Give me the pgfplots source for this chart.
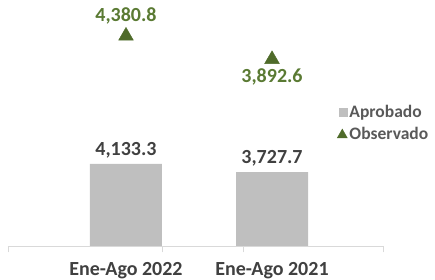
\documentclass[border=0pt]{standalone}
\usepackage{pgfplots}
\pgfplotsset{compat=1.18}
\usepackage{fontspec}
\setmainfont{Carlito}
\definecolor{barGray}{HTML}{BFBFBF}
\definecolor{obsGreen}{HTML}{4F6B2A}
\definecolor{lblGreen}{HTML}{5A7A33}
\definecolor{txtGray}{HTML}{404040}
\definecolor{legGray}{HTML}{595959}
\definecolor{axGray}{HTML}{D9D9D9}
\pgfplotsset{numfmt/.style={/pgf/number format/.cd, fixed, fixed zerofill, precision=1, 1000 sep={,}, assume math mode=true}}
\begin{document}
\begin{tikzpicture}
\path[use as bounding box] (0,0) rectangle (435pt,280pt);
% Bars (Aprobado)
\begin{axis}[
  at={(8pt,34pt)}, anchor=south west,
  scale only axis, width=375pt, height=236pt,
  xmin=-0.808, xmax=1.760, ymin=0, ymax=11894,
  hide axis, clip=false,
  ybar, bar width=72pt, bar shift=0pt,
  numfmt,
  nodes near coords,
  nodes near coords style={font=\fontsize{20}{24}\selectfont\bfseries, text=txtGray, anchor=base, inner sep=0pt, yshift=8.5pt},
]
\addplot[fill=barGray, draw=none] coordinates {(0,4133.3) (1,3727.7)};
\end{axis}
% Observado + axis
\begin{axis}[
  at={(8pt,34pt)}, anchor=south west,
  scale only axis, width=375pt, height=236pt,
  xmin=-0.808, xmax=1.760, ymin=0, ymax=4921,
  axis x line*=bottom, hide y axis, clip=false,
  axis line style={axGray, line width=0.8pt},
  xtick={0,1}, xticklabels={Ene-Ago 2022, Ene-Ago 2021},
  major tick length=0pt,
  xticklabel style={font=\fontsize{20}{24}\selectfont\bfseries, text=txtGray, anchor=base, inner sep=0pt, yshift=-30pt},
  extra x ticks={-0.808,0.249,0.803,1.760}, extra x tick labels={},
  extra x tick style={major tick length=6.5pt, tick align=outside, tick style={axGray, line width=0.8pt}},
  numfmt,
  legend style={draw=none, fill=none, inner sep=0pt, at={(0.877,0.605)}, anchor=north west,
    font=\fontsize{17.5}{20}\selectfont\bfseries, text=legGray, row sep=4pt,
    /tikz/every even column/.append style={column sep=1.5pt}},
  legend cell align=left,
]
\addlegendimage{legend image code/.code={\fill[barGray] (1pt,-4pt) rectangle (9pt,4pt);}}
\addlegendentry{Aprobado}
\addlegendimage{legend image code/.code={\fill[obsGreen] (-0.5pt,-3.8pt) -- (9.5pt,-3.8pt) -- (4.5pt,5pt) -- cycle;}}
\addlegendentry{Observado}
\addplot[only marks, mark=triangle*, mark size=8.5pt, color=obsGreen, forget plot,
  nodes near coords,
  nodes near coords style={font=\fontsize{20}{24}\selectfont\bfseries, text=lblGreen, anchor=base, inner sep=0pt, yshift=14pt}]
  coordinates {(0,4380.8)};
\addplot[only marks, mark=triangle*, mark size=8.5pt, color=obsGreen, forget plot,
  nodes near coords,
  nodes near coords style={font=\fontsize{20}{24}\selectfont\bfseries, text=lblGreen, anchor=base, inner sep=0pt, yshift=-22.7pt}]
  coordinates {(1,3892.6)};
\end{axis}
\end{tikzpicture}
\end{document}
